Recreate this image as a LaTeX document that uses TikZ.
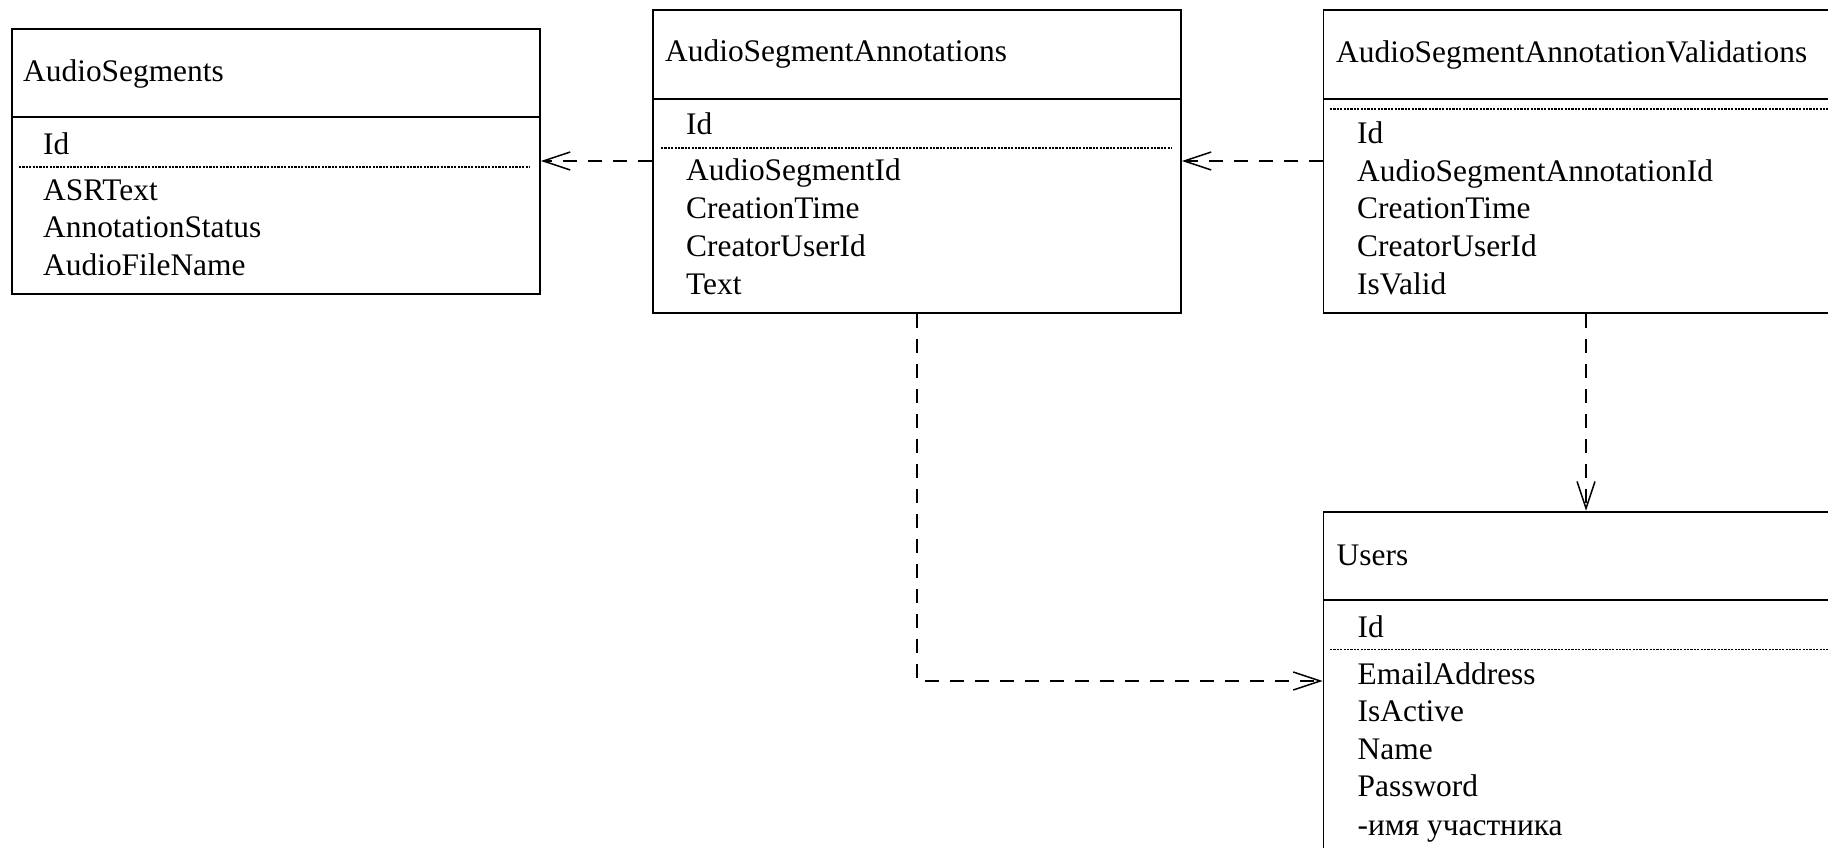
\documentclass[tikz,border=0pt]{standalone}
\usepackage{fontspec}
\setmainfont{Liberation Serif}
\usetikzlibrary{arrows.meta,calc}
\begin{document}
\begin{tikzpicture}[x=1pt,y=-1pt,
  box/.style={draw, line width=1.8pt, anchor=north west, inner sep=0pt, rectangle},
  lbl/.style={anchor=base west, inner sep=0pt, font=\fontsize{31.4}{37}\selectfont},
  sepline/.style={line width=1.8pt},
  dots/.style={line width=1.3pt, dash pattern=on 2.2pt off 1.2pt},
  conn/.style={line width=1.5pt, dash pattern=on 14pt off 11pt,
    -{Straight Barb[length=27pt,width=18pt,line width=1.5pt]}}]
\useasboundingbox (0,0) rectangle (1828,848);

% ---------- AudioSegments ----------
\node[box, minimum width=528.3pt, minimum height=265pt] (seg) at (10.7,28) {};
\draw[sepline] (seg.west |- 0,117) -- (seg.east |- 0,117);
\draw[dots] (19,167) -- (530,167);
\node[lbl] (segT) at (23,82) {AudioSegments};
\node[lbl] (seg1) at (43,154) {Id};
\node[lbl] (seg2) at (43,200) {ASRText};
\node[lbl] (seg3) at (43,237) {AnnotationStatus};
\node[lbl] (seg4) at (43,275) {AudioFileName};

% ---------- AudioSegmentAnnotations ----------
\node[box, minimum width=528pt, minimum height=303pt] (ann) at (652,9) {};
\draw[sepline] (ann.west |- 0,99) -- (ann.east |- 0,99);
\draw[dots] (661,148) -- (1172,148);
\node[lbl] (annT) at (665,62) {AudioSegmentAnnotations};
\node[lbl] (ann1) at (686,135) {Id};
\node[lbl] (ann2) at (686,180) {AudioSegmentId};
\node[lbl] (ann3) at (686,218) {CreationTime};
\node[lbl] (ann4) at (686,256) {CreatorUserId};
\node[lbl] (ann5) at (686,294) {Text};

% ---------- AudioSegmentAnnotationValidations ----------
\node[box, minimum width=520pt, minimum height=303pt] (val) at (1322.6,9) {};
\draw[sepline] (val.west |- 0,99) -- (val.east |- 0,99);
\draw[dots] (1330,109) -- (1840,109);
\node[lbl] (valT) at (1336,63) {AudioSegmentAnnotationValidations};
\node[lbl] (val1) at (1357,143) {Id};
\node[lbl] (val2) at (1357,181) {AudioSegmentAnnotationId};
\node[lbl] (val3) at (1357,218) {CreationTime};
\node[lbl] (val4) at (1357,256) {CreatorUserId};
\node[lbl] (val5) at (1357,294) {IsValid};

% ---------- Users ----------
\node[box, minimum width=520pt, minimum height=370pt] (usr) at (1322.6,510.8) {};
\draw[sepline] (usr.west |- 0,600) -- (usr.east |- 0,600);
\draw[dots] (1330,649.5) -- (1840,649.5);
\node[lbl] (usrT) at (1336.5,565.6) {Users};
\node[lbl] (usr1) at (1357.5,637) {Id};
\node[lbl] (usr2) at (1357.5,684) {EmailAddress};
\node[lbl] (usr3) at (1357.5,721) {IsActive};
\node[lbl] (usr4) at (1357.5,759) {Name};
\node[lbl] (usr5) at (1357.5,796) {Password};
\node[lbl] (usr6) at (1357.5,835) {-имя участника};

% ---------- connectors ----------
\draw[conn] (ann.west |- 0,161) -- (seg.east |- 0,161);
\draw[conn] (val.west |- 0,161) -- (ann.east |- 0,161);
\draw[conn] (ann.south -| 917,0) -- (917,681) -- (usr.west |- 0,681);
\draw[conn] (val.south -| 1586,0) -- (usr.north -| 1586,0);
\end{tikzpicture}
\end{document}
